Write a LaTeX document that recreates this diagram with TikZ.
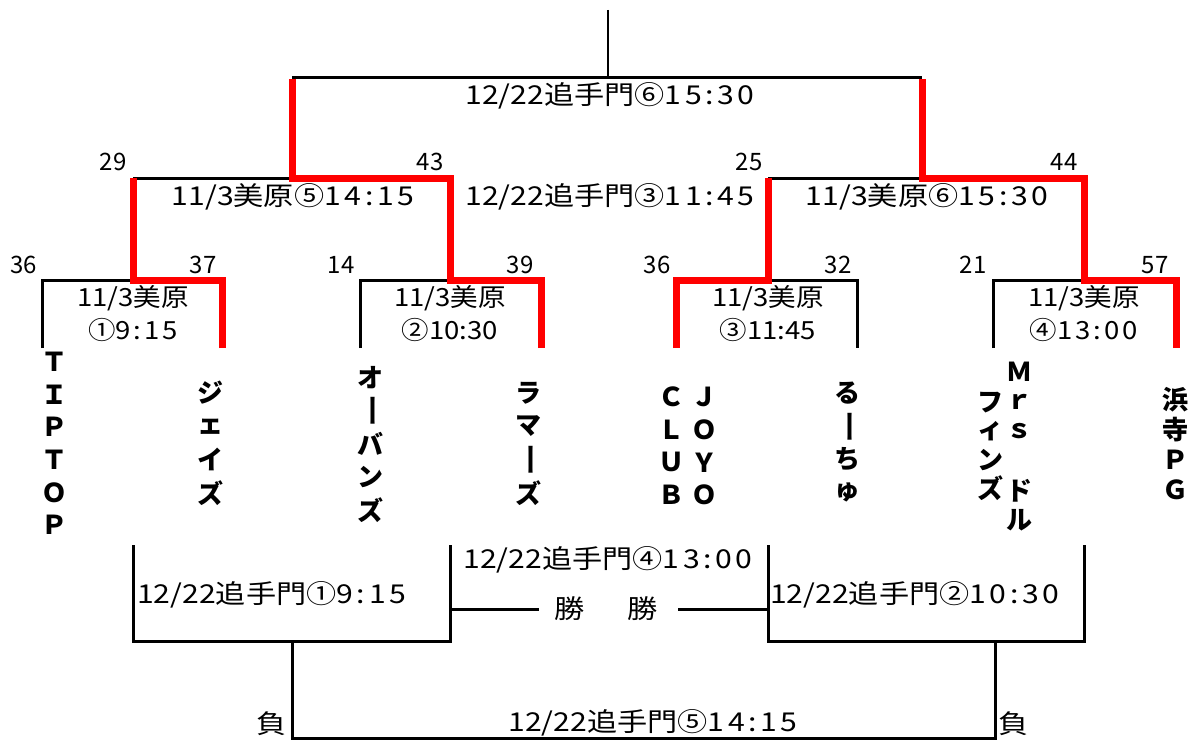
\documentclass[tikz,border=0pt]{standalone}
\usepackage{fontspec}
\usepackage{graphicx}
\newfontfamily\jp[FakeStretch=1.1]{Noto Sans CJK JP}
\newfontfamily\jpw[FakeStretch=1.16]{Noto Sans CJK JP}
\newfontfamily\jpt[FakeStretch=1.1,LetterSpace=12]{Noto Sans CJK JP}
\newfontfamily\jpwt[FakeStretch=1.16,LetterSpace=14]{Noto Sans CJK JP}
\newfontfamily\jpn{Noto Sans CJK JP}
\newcommand\tm[1]{{\jpt #1}}
\newcommand\tmw[1]{{\jpwt #1}}
\newcommand\vbar{\rotatebox{-90}{\scalebox{1.25}[0.85]{ー}}}
\newcommand\vname[5]{%
  \foreach \c [count=\i] in {#5} \node[nm] (#1\i) at (#2,{#3+(\i-1)*#4}) {\c};}
\tikzset{
  blk/.style={line width=3pt, black},
  redl/.style={line width=7pt, red},
  lbl/.style={font=\jp\fontsize{25}{28}\selectfont, inner sep=0pt},
  wl/.style={font=\jpw\fontsize{26}{28}\selectfont, inner sep=0pt},
  scr/.style={font=\jpn\fontsize{24}{26}\selectfont, inner sep=0pt},
  nm/.style={font=\jpn\bfseries\fontsize{26}{28}\selectfont, inner sep=0pt},
}
\begin{document}
\begin{tikzpicture}[x=1pt,y=-1pt,line join=miter]
\useasboundingbox (0,0) rectangle (1194,741);
% ---------- coordinates
\coordinate (top) at (608,10);
\coordinate (F) at (608,78);
\coordinate (FL) at (292,78);
\coordinate (FR) at (922,78);
\coordinate (SL) at (292,178);
\coordinate (SR) at (922,178);
\coordinate (SLa) at (133,178);
\coordinate (SLb) at (450,178);
\coordinate (SRa) at (768,178);
\coordinate (SRb) at (1084,178);
\coordinate (q1) at (133,280);
\coordinate (q2) at (450,280);
\coordinate (q3) at (768,280);
\coordinate (q4) at (1084,280);
\coordinate (t1) at (42,348);
\coordinate (t2) at (222,348);
\coordinate (t3) at (360,348);
\coordinate (t4) at (541,348);
\coordinate (t5) at (676,348);
\coordinate (t6) at (857,348);
\coordinate (t7) at (993,348);
\coordinate (t8) at (1176,348);
% ---------- black bracket lines
\draw[black,line width=2pt] (top) -- (F);
\draw[blk] (FL) -- (FR);
\draw[blk] (SLa) -- (SL);
\draw[blk] (SRa) -- (SR);
\draw[blk] (t1) |- (q1);
\draw[blk] (t3) |- (q2);
\draw[blk] (q3) -| (t6);
\draw[blk] (t7) |- (q4);
% ---------- red winner paths
\draw[redl] (t2) |- (q1) -- (SLa);
\draw[redl] (t4) |- (q2) -- (SLb) -- (SL) -- ([yshift=-1.5pt]FL);
\draw[redl] (t5) |- (q3) -- (SRa);
\draw[redl] (t8) |- (q4) -- (SRb) -- (SR) -- ([yshift=-1.5pt]FR);
% ---------- upper labels
\node[wl] (lF) at (610,96) {12/22追手門⑥\tmw{15:30}};
\node[wl] (lSL) at (293,197) {11/3美原⑤\tmw{14:15}};
\node[wl] (lC) at (610,197) {12/22追手門③\tmw{11:45}};
\node[wl] (lSR) at (927,197) {11/3美原⑥\tmw{15:30}};
\node[lbl] (lQ1a) at (133,298) {11/3美原};
\node[lbl] (lQ1b) at (133,330) {①\tm{9:15}};
\node[lbl] (lQ2a) at (450,298) {11/3美原};
\node[lbl] (lQ2b) at (450,330) {②10:30};
\node[lbl] (lQ3a) at (768,298) {11/3美原};
\node[lbl] (lQ3b) at (768,330) {③11:45};
\node[lbl] (lQ4a) at (1084,298) {11/3美原};
\node[lbl] (lQ4b) at (1084,330) {④\tm{13:00}};
% ---------- scores
\node[scr] (s29) at (113,162) {29};
\node[scr] (s43) at (430,162) {43};
\node[scr] (s25) at (749,162) {25};
\node[scr] (s44) at (1064,162) {44};
\node[scr] (s36a) at (24,265) {36};
\node[scr] (s37) at (203,265) {37};
\node[scr] (s14) at (341,265) {14};
\node[scr] (s39) at (520,265) {39};
\node[scr] (s36b) at (657,265) {36};
\node[scr] (s32) at (838,265) {32};
\node[scr] (s21) at (973,265) {21};
\node[scr] (s57) at (1155,265) {57};
% ---------- team names (vertical)
\vname{tipt}{54}{362}{32.6}{Ｔ,Ｉ,Ｐ,Ｔ,Ｏ,Ｐ}
\vname{jays}{210}{393}{33.3}{ジ,ェ,イ,ズ}
\vname{orb}{370}{378}{33}{オ,\vbar,バ,ン,ズ}
\vname{lam}{528}{393}{33.3}{ラ,マ,\vbar,ズ}
\vname{club}{671}{397}{32.7}{Ｃ,Ｌ,Ｕ,Ｂ}
\vname{joyo}{704}{397}{32.7}{Ｊ,Ｏ,Ｙ,Ｏ}
\vname{ruchu}{847}{393}{33.3}{る,\vbar,ち,ゅ}
\vname{mrs}{1019}{372}{29.6}{Ｍ,ｒ,ｓ,{},ド,ル}
\vname{fins}{990}{403}{28.3}{フ,ィ,ン,ズ}
\vname{hama}{1175}{400}{30}{浜,寺,Ｐ,Ｇ}
% ---------- lower bracket
\coordinate (b1a) at (133,545);
\coordinate (b1c) at (133,641);
\coordinate (b1d) at (450,641);
\coordinate (b1b) at (450,545);
\coordinate (b2a) at (768,545);
\coordinate (b2c) at (768,641);
\coordinate (b2d) at (1084,641);
\coordinate (b2b) at (1084,545);
\coordinate (w1) at (450,609);
\coordinate (w2) at (768,609);
\coordinate (L1) at (292,641);
\coordinate (L2) at (995,641);
\coordinate (L1b) at (292,738);
\coordinate (L2b) at (995,738);
\draw[blk] (b1a) -- (b1c) -- (b1d) -- (b1b);
\draw[blk] (b2a) -- (b2c) -- (b2d) -- (b2b);
\node[wl,inner xsep=16pt] (win1) at (570,609) {勝};
\node[wl,inner xsep=20pt] (win2) at (643,609) {勝};
\draw[blk] (w1) -- (win1);
\draw[blk] (w2) -- (win2);
\draw[blk] (L1) -- (L1b) -- (L2b) -- (L2);
% ---------- lower labels
\node[wl,anchor=west] (lB1) at (137,595) {12/22追手門①\tmw{9:15}};
\node[wl] (lB4) at (608,560) {12/22追手門④\tmw{13:00}};
\node[wl,anchor=west] (lB2) at (770,595) {12/22追手門②\tmw{10:30}};
\node[wl] (lB5) at (653,723) {12/22追手門⑤\tmw{14:15}};
\node[wl] (lose1) at (272,724) {負};
\node[wl] (lose2) at (1014,724) {負};
\end{tikzpicture}
\end{document}
